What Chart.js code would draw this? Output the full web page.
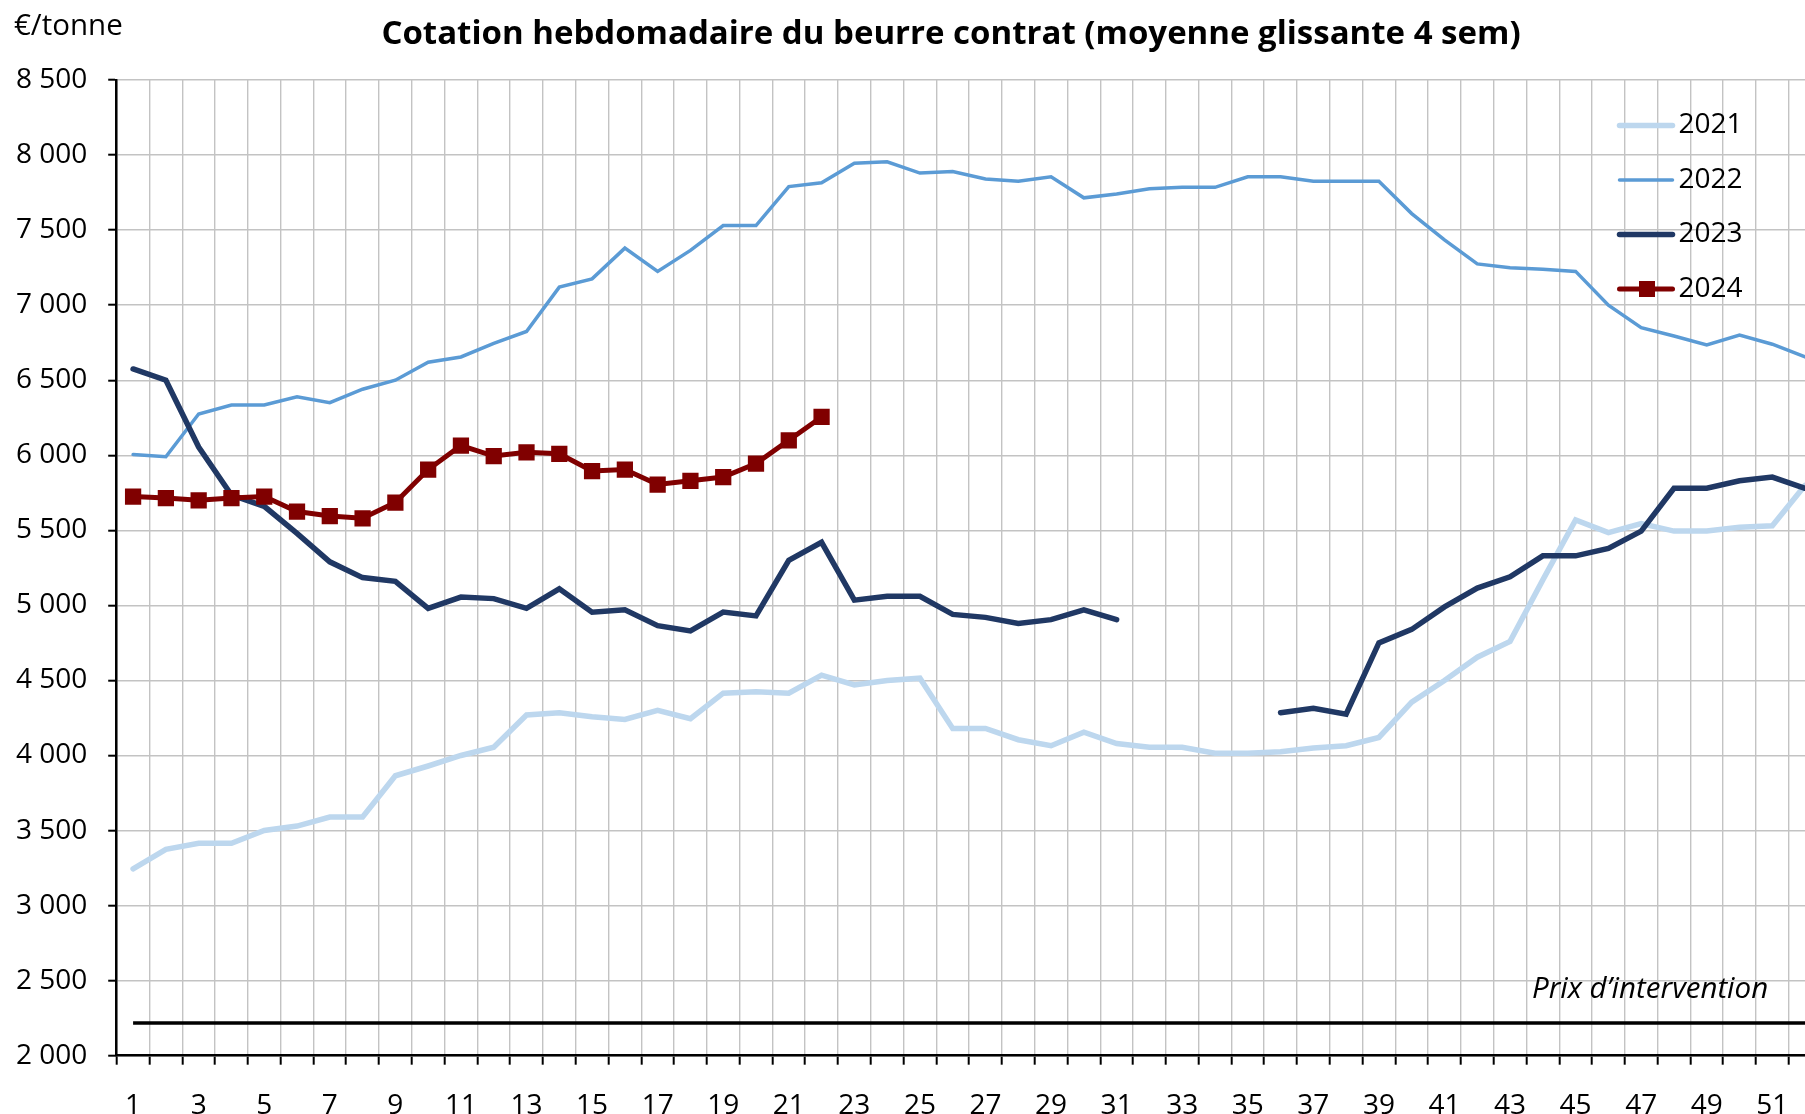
<!DOCTYPE html>
<html><head><meta charset="utf-8">
<script src="https://cdn.jsdelivr.net/npm/chart.js@4.4.1/dist/chart.umd.min.js"></script>
<style>
html,body{margin:0;padding:0;background:#fff;overflow:hidden;width:1805px;height:1114px;}
canvas{display:block;}
</style></head><body>
<canvas id="c" width="1833" height="1114" style="width:1833px;height:1114px"></canvas>
<script>
// ---- data ----
const weeks = ['1','2','3','4','5','6','7','8','9','10','11','12','13','14','15','16','17','18','19','20','21','22','23','24','25','26','27','28','29','30','31','32','33','34','35','36','37','38','39','40','41','42','43','44','45','46','47','48','49','50','51','52'];
const yTicks = [2000, 2500, 3000, 3500, 4000, 4500, 5000, 5500, 6000, 6500, 7000, 7500, 8000, 8500];
const y2021 = [3245, 3375, 3415, 3415, 3500, 3530, 3590, 3590, 3865, 3930, 4000, 4055, 4270, 4285, 4258, 4240, 4300, 4245, 4415, 4425, 4415, 4535, 4470, 4500, 4515, 4180, 4180, 4105, 4065, 4155, 4080, 4055, 4055, 4015, 4015, 4025, 4050, 4065, 4120, 4355, 4500, 4655, 4760, 5170, 5570, 5485, 5545, 5495, 5495, 5520, 5530, 5800];
const y2022 = [6005, 5990, 6275, 6335, 6335, 6390, 6350, 6440, 6500, 6620, 6655, 6745, 6825, 7120, 7175, 7380, 7225, 7365, 7530, 7530, 7790, 7815, 7945, 7955, 7880, 7890, 7840, 7825, 7855, 7715, 7740, 7775, 7785, 7785, 7855, 7855, 7825, 7825, 7825, 7610, 7435, 7275, 7250, 7240, 7225, 7000, 6850, 6795, 6735, 6800, 6740, 6655];
const y2023 = [6575, 6500, 6055, 5735, 5660, 5480, 5290, 5185, 5160, 4980, 5055, 5045, 4980, 5110, 4955, 4970, 4865, 4830, 4955, 4930, 5300, 5420, 5035, 5060, 5060, 4940, 4920, 4880, 4905, 4970, 4905, null, null, null, null, 4285, 4315, 4275, 4750, 4840, 4990, 5115, 5190, 5330, 5330, 5380, 5495, 5780, 5780, 5830, 5855, 5780];
const y2024 = [5725, 5715, 5700, 5715, 5725, 5625, 5595, 5580, 5685, 5905, 6065, 5995, 6020, 6010, 5895, 5905, 5805, 5830, 5855, 5945, 6100, 6255];
const interventionPrice = 2217.5;
const seriesNames = ['2021', '2022', '2023', '2024'];
const titleText = 'Cotation hebdomadaire du beurre contrat (moyenne glissante 4 sem)';
const unitText = '€/tonne';
const interventionText = 'Prix d’intervention';

const FONT = "'Open Sans', sans-serif";
const styles = {
  '2021': {color:'#BDD7EE', width:5.5},
  '2022': {color:'#5B9BD5', width:3.5},
  '2023': {color:'#203864', width:5.5},
  '2024': {color:'#800000', width:5}
};

function fmt(v){ const s = String(v); return s.length > 3 ? s.slice(0, -3) + ' ' + s.slice(-3) : s; }

const overlay = {
  id: 'overlay',
  afterDraw(chart){
    const c = chart.ctx;
    c.save();
    c.fillStyle = '#000';
    c.textBaseline = 'middle';
    c.textAlign = 'center';
    c.font = `bold 33px ${FONT}`;
    c.fillText(titleText, 951, 34.5);
    c.textAlign = 'left';
    c.font = `29.5px ${FONT}`;
    c.fillText(unitText, 14, 27);
    c.font = `italic 29.5px ${FONT}`;
    const yI = chart.scales.y.getPixelForValue(interventionPrice);
    c.fillText(interventionText, 1532, yI - 33);
    // legend
    const ly = [125.5, 180, 234.5, 289];
    seriesNames.forEach((n, i) => {
      const st = styles[n];
      c.strokeStyle = st.color;
      c.lineWidth = st.width;
      c.lineCap = 'round';
      c.beginPath(); c.moveTo(1619.5, ly[i]); c.lineTo(1672.5, ly[i]); c.stroke();
      if (n === '2024') {
        c.fillStyle = st.color;
        c.fillRect(1647 - 8, ly[i] - 8, 16, 16);
      }
      c.fillStyle = '#000';
      c.font = `28px ${FONT}`;
      c.fillText(n, 1678.5, ly[i]);
    });
    c.restore();
  }
};

function ds(name, data, order, extra){
  const st = styles[name];
  return Object.assign({label:name, data, borderColor:st.color, backgroundColor:st.color, borderWidth:st.width,
    pointRadius:0, tension:0, spanGaps:false, order, borderCapStyle:'round', borderJoinStyle:'miter'}, extra||{});
}

new Chart(document.getElementById('c'), {
  type: 'line',
  data: {
    labels: weeks,
    datasets: [
      ds('2024', y2024, 0, {pointRadius:11.5, pointStyle:'rect', pointBorderWidth:0}),
      ds('2023', y2023, 1),
      ds('2022', y2022, 2),
      ds('2021', y2021, 3),
      {label:'intervention', data: weeks.map(() => interventionPrice), borderColor:'#000', borderWidth:3.5, pointRadius:0, order:4}
    ]
  },
  options: {
    responsive: false, animation: false, devicePixelRatio: 1,
    layout: {padding: {top: 80, right: 1.2, bottom: 0, left: 0}},
    plugins: {legend: {display: false}, title: {display: false}, tooltip: {enabled: false}},
    scales: {
      x: {
        type: 'category', offset: true,
        grid: {offset: true, color: '#c3c3c3', lineWidth: 1.4, tickLength: 9, tickColor: '#000', tickWidth: 2},
        border: {color: '#000', width: 2.5},
        ticks: {autoSkip: false, maxRotation: 0, minRotation: 0, padding: 24.5, color: '#000',
          font: {family: FONT, size: 28}, callback: (v, i) => i % 2 === 0 ? weeks[i] : ''},
        afterFit: s => { s.height = 1114 - 1055.7; }
      },
      y: {
        min: yTicks[0], max: yTicks[yTicks.length - 1],
        afterBuildTicks: s => { s.ticks = yTicks.map(v => ({value: v})); },
        grid: {color: '#c3c3c3', lineWidth: 1.4, tickLength: 8.5, tickColor: '#000', tickWidth: 2},
        border: {color: '#000', width: 2.5},
        ticks: {padding: 21, color: '#000', font: {family: FONT, size: 28}, callback: v => fmt(v)},
        afterFit: s => { s.width = 116.7; }
      }
    }
  },
  plugins: [overlay]
});
</script>
</body></html>
